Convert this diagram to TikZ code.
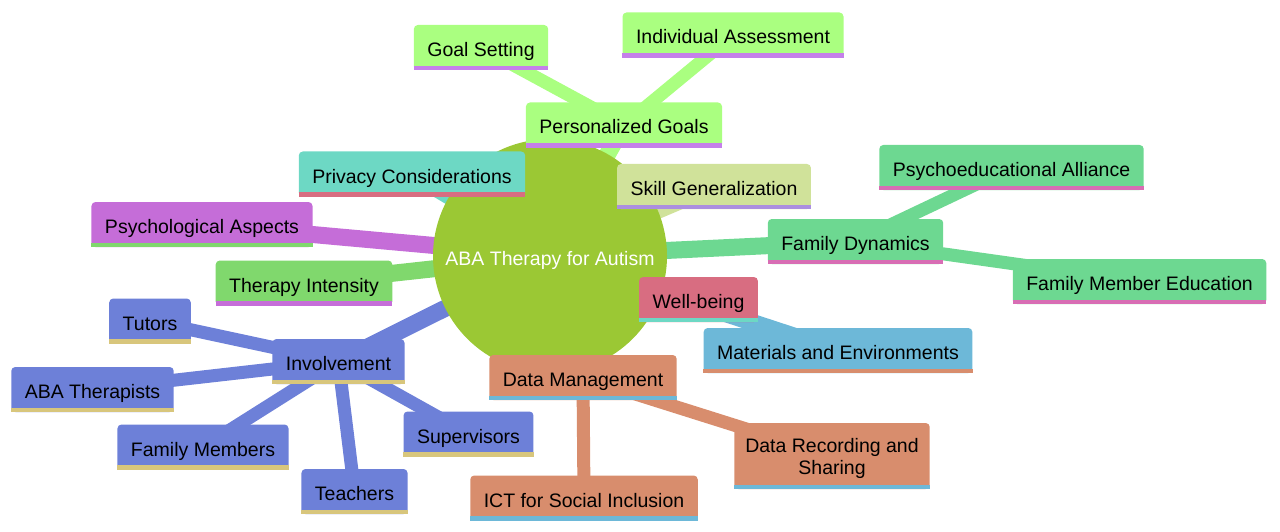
\documentclass[tikz,border=0pt]{standalone}
\usepackage{fontspec}
\setmainfont{Liberation Sans}
\usetikzlibrary{backgrounds}
\pgfdeclarelayer{background}
\pgfdeclarelayer{foreground}
\pgfsetlayers{background,main,foreground}

\definecolor{rootc}{HTML}{9BC834}
\definecolor{goalc}{HTML}{AAFF80}
\definecolor{goall}{HTML}{C580EA}
\definecolor{privc}{HTML}{6DD8C4}
\definecolor{privl}{HTML}{D86D81}
\definecolor{skillc}{HTML}{D0E29A}
\definecolor{skilll}{HTML}{AB8FE0}
\definecolor{psyc}{HTML}{C56DD8}
\definecolor{psyl}{HTML}{80D86D}
\definecolor{intc}{HTML}{80D86D}
\definecolor{intl}{HTML}{C56DD8}
\definecolor{famc}{HTML}{6DD891}
\definecolor{faml}{HTML}{D86DB4}
\definecolor{wellc}{HTML}{D86D81}
\definecolor{welll}{HTML}{6DD8C4}
\definecolor{matc}{HTML}{6DB8D8}
\definecolor{matl}{HTML}{D88D6D}
\definecolor{datac}{HTML}{D88D6D}
\definecolor{datal}{HTML}{6DB8D8}
\definecolor{invc}{HTML}{6D80D8}
\definecolor{invl}{HTML}{D8C67C}

\begin{document}
\begin{tikzpicture}[
    x=1pt, y=-1pt,
    topic/.style 2 args={rectangle, fill=#1, rounded corners=4pt, minimum height=45pt,
        inner xsep=13.5pt, inner ysep=4pt, text height=18pt, text depth=0pt,
        align=center, font=\fontsize{19.5}{22}\selectfont,
        append after command={\pgfextra{\let\lastbox\tikzlastnode
            \begin{pgfonlayer}{foreground}
            \fill[#2, sharp corners] ([yshift=4.5pt]\lastbox.south west) rectangle (\lastbox.south east);
            \end{pgfonlayer}}}},
    rootnode/.style={circle, fill=rootc, text=white, minimum size=234pt, inner sep=0pt,
        text height=18pt, text depth=0pt, font=\fontsize{19.5}{22}\selectfont},
    rootedge/.style={line width=17pt},
    subedge/.style={line width=13pt}
]
\useasboundingbox (0,0) rectangle (1280,532);

\node[rootnode] (aba) at (550,256) {ABA Therapy for Autism};

% Personalized goals branch
\node[topic={goalc}{goall}] (goals) at (624,125) {Personalized Goals};
\node[topic={goalc}{goall}] (goalset) at (481,47.5) {Goal Setting};
\node[topic={goalc}{goall}] (assess) at (733,35) {Individual Assessment};

% Single topics round the root
\node[topic={privc}{privl}] (privacy) at (412,174) {Privacy Considerations};
\node[topic={skillc}{skilll}] (skill) at (714,186.5) {Skill Generalization};
\node[topic={psyc}{psyl}] (psych) at (202,224.5) {Psychological Aspects};
\node[topic={intc}{intl}] (intensity) at (304,283) {Therapy Intensity};

% Family branch
\node[topic={famc}{faml}] (family) at (855.5,241.5) {Family Dynamics};
\node[topic={famc}{faml}] (alliance) at (1011.5,167.5) {Psychoeducational Alliance};
\node[topic={famc}{faml}] (famedu) at (1139.5,281.5) {Family Member Education};

% Well-being and materials
\node[topic={wellc}{welll}] (well) at (698.5,299.5) {Well-being};
\node[topic={matc}{matl}] (materials) at (838,350.5) {Materials and Environments};

% Data branch
\node[topic={datac}{datal}] (data) at (583,377.5) {Data Management};
\node[topic={datac}{datal}, minimum height=66pt, inner xsep=11pt, text height=40pt, text depth=4pt] (record) at (832,456) {Data Recording and\\Sharing};
\node[topic={datac}{datal}] (ict) at (584,498) {ICT for Social Inclusion};

% Involvement branch
\node[topic={invc}{invl}] (involve) at (338.5,361.5) {Involvement};
\node[topic={invc}{invl}] (tutors) at (150,321) {Tutors};
\node[topic={invc}{invl}] (therapists) at (92.5,389.5) {ABA Therapists};
\node[topic={invc}{invl}] (members) at (203,447) {Family Members};
\node[topic={invc}{invl}] (teachers) at (354.5,491.5) {Teachers};
\node[topic={invc}{invl}] (supervisors) at (468.5,434) {Supervisors};

% Connectors behind the boxes
\begin{scope}[on background layer]
\draw[rootedge, goalc] (aba.center) -- (goals.center);
\draw[rootedge, privc] (aba.center) -- (privacy.center);
\draw[rootedge, skillc] (aba.center) -- (skill.center);
\draw[rootedge, psyc] (aba.center) -- (psych.center);
\draw[rootedge, intc] (aba.center) -- (intensity.center);
\draw[rootedge, famc] (aba.center) -- (family.center);
\draw[rootedge, wellc] (aba.center) -- (well.center);
\draw[rootedge, matc] (aba.center) -- (materials.center);
\draw[rootedge, datac] (aba.center) -- (data.center);
\draw[rootedge, invc] (aba.center) -- (involve.center);
\draw[subedge, goalc] (goals.center) -- (goalset.center);
\draw[subedge, goalc] (goals.center) -- (assess.center);
\draw[subedge, famc] (family.center) -- (alliance.center);
\draw[subedge, famc] (family.center) -- (famedu.center);
\draw[subedge, datac] (data.center) -- (record.center);
\draw[subedge, datac] (data.center) -- (ict.center);
\draw[subedge, invc] (involve.center) -- (tutors.center);
\draw[subedge, invc] (involve.center) -- (therapists.center);
\draw[subedge, invc] (involve.center) -- (members.center);
\draw[subedge, invc] (involve.center) -- (teachers.center);
\draw[subedge, invc] (involve.center) -- (supervisors.center);
\end{scope}

\end{tikzpicture}
\end{document}
